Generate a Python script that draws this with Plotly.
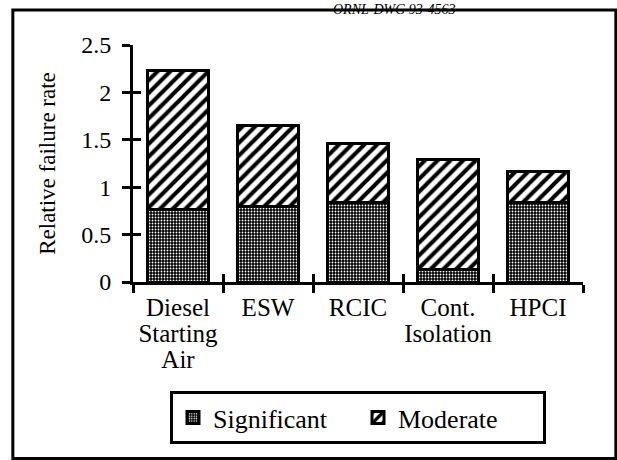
import plotly.graph_objects as go

# Data
categories = ["Diesel<br>Starting<br>Air", "ESW", "RCIC", "Cont.<br>Isolation", "HPCI"]
significant = [0.77, 0.80, 0.84, 0.13, 0.84]
moderate = [1.46, 0.85, 0.62, 1.16, 0.33]
y_ticks = [0, 0.5, 1, 1.5, 2, 2.5]
y_ticktext = ["0", "0.5", "1", "1.5", "2", "2.5"]

FONT = "Liberation Serif"


def big_lines(label, px=25):
    # larger glyphs, but line spacing from the smaller base tick font
    return "<br>".join(f'<span style="font-size:{px}px">{part}</span>' for part in label.split("<br>"))


fig = go.Figure()

fig.add_trace(go.Bar(
    x=categories, y=significant, name="Significant",
    marker=dict(
        color="black",
        line=dict(color="black", width=3),
        pattern=dict(shape=".", size=3, solidity=0.3, fgcolor="white", bgcolor="black", fillmode="replace"),
    ),
))
fig.add_trace(go.Bar(
    x=categories, y=moderate, name="Moderate",
    marker=dict(
        color="white",
        line=dict(color="black", width=3),
        pattern=dict(shape="/", size=9, solidity=0.45, fgcolor="black", bgcolor="white", fillmode="replace"),
    ),
))
# invisible trace on the overlay axes, which draw the inner half of the crossing ticks
fig.add_trace(go.Scatter(
    x=categories, y=[None] * len(categories), xaxis="x2", yaxis="y2",
    mode="markers", marker=dict(opacity=0), showlegend=False, hoverinfo="skip",
))

tick_style = dict(ticklen=8, tickwidth=3, tickcolor="black", showgrid=False, zeroline=False)

fig.update_layout(
    width=617, height=460,
    barmode="stack", bargap=0.33,
    paper_bgcolor="white", plot_bgcolor="white",
    margin=dict(l=133, r=34, t=45, b=178, autoexpand=False),
    font=dict(family=FONT, size=23, color="black"),
    showlegend=True,
    legend=dict(
        orientation="h", x=0.5, xanchor="center", y=-0.46, yanchor="top",
        bordercolor="black", borderwidth=3, bgcolor="white",
        font=dict(family=FONT, size=26), entrywidth=140, traceorder="normal",
    ),
    xaxis=dict(
        type="category", range=[-0.5, 4.5], tickson="boundaries", tickangle=0,
        ticks="outside", showline=True, linecolor="black", linewidth=3,
        tickfont=dict(family=FONT, size=20), ticklabelstandoff=7,
        tickmode="array", tickvals=categories, ticktext=[big_lines(c) for c in categories],
        **tick_style,
    ),
    yaxis=dict(
        range=[0, 2.5], tickvals=y_ticks, ticktext=y_ticktext,
        ticks="outside", showline=True, linecolor="black", linewidth=3,
        tickfont=dict(family=FONT, size=24), ticklabelstandoff=6,
        title=dict(text="Relative failure rate", standoff=20, font=dict(family=FONT, size=23)),
        **tick_style,
    ),
    xaxis2=dict(
        type="category", overlaying="x", anchor="y2", range=[-0.5, 4.5], tickson="boundaries",
        tickmode="array", tickvals=categories,
        ticks="inside", showticklabels=False, showline=False, **tick_style,
    ),
    yaxis2=dict(
        overlaying="y", anchor="x2", range=[0, 2.5], tickvals=y_ticks,
        ticks="inside", showticklabels=False, showline=False, **tick_style,
    ),
    shapes=[dict(
        type="rect", xref="paper", yref="paper",
        x0=-0.267, x1=1.073, y0=-0.745, y1=1.148,
        line=dict(color="black", width=3), fillcolor="rgba(0,0,0,0)", layer="below",
    )],
    annotations=[dict(
        text="ORNL-DWG 93-4563", xref="paper", yref="paper",
        x=0.582, y=1.19, xanchor="center", yanchor="top", showarrow=False,
        font=dict(family=FONT, size=14, style="italic"),
    )],
)

# the page body has an 8px default margin; remove it so the figure sits at 0,0
fig.write_html(
    "out.html",
    config={"displayModeBar": False},
    post_script="document.body.style.margin='0';",
)
